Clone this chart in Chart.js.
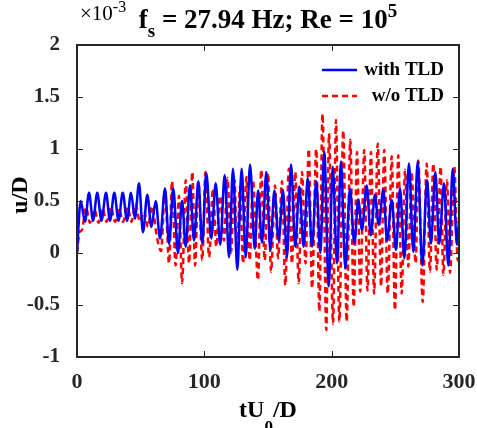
<!DOCTYPE html>
<html>
<head>
<meta charset="utf-8">
<script src="https://cdn.jsdelivr.net/npm/chart.js@4.4.1/dist/chart.umd.min.js"></script>
<style>
  html, body { margin: 0; padding: 0; background: #fff; }
  #wrap { width: 477px; height: 428px; }
</style>
</head>
<body>
<div id="wrap"><canvas id="grafico" width="477" height="428"></canvas></div>
<script>
// tempo adimensional (tU0/D) e deslocamento u/D (x 1e-3), picos e vales
const tComTLD = [0, 2.9, 6.3, 9.4, 12.6, 15.9, 19.2, 22.8, 25.9, 29.3, 32.6, 35.9, 39.3, 42.4, 45.5, 48.7,
  51.8, 55.2, 58.4, 61.8, 65.2, 69.1, 72.3, 75.6, 79.3, 82.5, 85.4, 88.7, 91.9, 95.3, 98.4,
  101.5, 105.5, 108.9, 112.5, 116.0, 119.4, 122.5, 125.9, 129.3, 132.5, 135.9, 139.6, 142.2, 145.3, 148.7,
  151.8, 155.0, 158.4, 161.8, 164.9, 168.1, 171.4, 174.6, 178.0, 181.2, 184.6, 187.9, 191.1, 194.2, 197.7,
  200.8, 204.2, 207.3, 210.7, 214.4, 217.8, 220.9, 223.8, 227.5, 230.7, 234.0, 236.9, 240.6, 243.5, 247.2,
  250.5, 253.7, 257.1, 260.7, 264.1, 267.6, 271.2, 274.9, 278.0, 281.4, 284.5, 288.2, 291.6, 295.1, 298.4, 300];
const uComTLD = [0.00, 0.50, 0.30, 0.58, 0.31, 0.58, 0.31, 0.58, 0.31, 0.58, 0.31, 0.58, 0.31, 0.58, 0.33, 0.67,
  0.20, 0.56, 0.25, 0.50, 0.14, 0.62, 0.09, 0.62, 0.00, 0.50, 0.06, 0.65, 0.12, 0.69, 0.09,
  0.77, 0.14, 0.67, 0.08, 0.75, -0.04, 0.81, -0.16, 0.81, -0.04, 0.85, 0.04, 0.60, 0.10, 0.78,
  0.03, 0.60, 0.12, 0.60, -0.04, 0.85, 0.06, 0.64, 0.06, 0.72, 0.06, 0.69, 0.00, 0.97, -0.32,
  0.83, -0.10, 0.88, -0.15, 0.62, 0.09, 0.51, 0.22, 0.65, 0.17, 0.56, 0.27, 0.61, 0.12, 0.51,
  0.03, 0.62, -0.05, 0.86, 0.01, 0.88, -0.12, 0.70, 0.09, 0.78, 0.09, 0.67, -0.12, 0.81, 0.08, 0.30];

const tSemTLD = [0, 2.0, 3.9, 7.1, 10.2, 13.7, 16.9, 20.0, 23.2, 26.7, 29.8, 33.0, 36.1, 39.7, 42.8, 45.9, 49.5,
  52.6, 55.8, 58.9, 62.8, 66.0, 69.1, 72.3, 74.6, 77.4, 80.1, 82.5, 85.4, 88.0, 90.6, 92.7, 95.3, 98.4,
  100.9, 103.7, 106.8, 109.4, 112.3, 115.4, 118.2, 120.9, 123.7, 125.7, 128.0, 130.4, 133.0, 135.6, 138.2,
  142.1, 144.7, 147.4, 150.0, 152.4, 155.5, 157.9, 161.0, 163.6, 166.3, 168.8, 171.4, 174.1, 176.7, 179.5,
  182.0, 184.6, 187.9, 190.3, 192.8, 195.8, 197.9, 201.1, 203.4, 206.0, 209.1, 211.8, 214.6, 217.3, 219.9,
  222.5, 225.6, 228.1, 230.9, 233.3, 236.2, 238.8, 241.3, 244.0, 247.2, 249.7, 252.3, 255.0, 257.6, 260.2,
  262.7, 266.0, 268.0, 271.5, 274.6, 277.2, 279.8, 282.5, 285.6, 287.7, 290.6, 293.0, 296.3, 299.0, 300];
const uSemTLD = [0.00, 0.20, 0.22, 0.44, 0.29, 0.42, 0.29, 0.43, 0.30, 0.44, 0.30, 0.43, 0.30, 0.44, 0.30, 0.47, 0.30,
  0.40, 0.25, 0.45, 0.15, 0.02, 0.60, -0.10, 0.69, -0.12, 0.55, -0.29, 0.70, -0.10, 0.78, -0.12, 0.69, -0.07,
  0.78, -0.04, 0.62, 0.06, 0.55, 0.12, 0.72, 0.00, 0.70, -0.04, 0.64, -0.10, 0.73, -0.07, 0.70,
  -0.26, 0.80, -0.07, 0.77, -0.18, 0.65, -0.05, 0.69, -0.31, 0.81, -0.10, 0.78, -0.29, 0.78, -0.10,
  1.00, -0.34, 1.00, -0.56, 1.34, -0.74, 1.15, -0.68, 1.28, -0.66, 1.18, -0.66, 1.09, -0.52, 0.97,
  -0.37, 0.99, -0.36, 0.97, -0.39, 1.05, -0.32, 0.99, -0.39, 0.93, -0.55, 0.94, -0.39, 0.80, -0.13,
  0.78, -0.10, 0.89, -0.47, 0.86, -0.18, 0.86, -0.16, 0.83, -0.21, 0.70, -0.19, 0.83, -0.07, 0.30];

const ticksX = [0, 100, 200, 300];
const ticksY = [-1, -0.5, 0, 0.5, 1, 1.5, 2];
const rotulos = ['with TLD', 'w/o TLD'];

const AZUL = '#0000ff';
const VERMELHO = '#ff0000';
const EIXO = '#262626';
const FONTE = '"Liberation Serif", "Times New Roman", serif';

// Moldura, marcas internas, titulo e legenda no estilo MATLAB
const pluginMatlab = {
  id: 'estiloMatlab',
  afterDraw: (chart) => {
    const { ctx, chartArea, scales } = chart;
    const { left, right, top, bottom } = chartArea;
    ctx.save();

    // marcas de escala para dentro
    ctx.strokeStyle = EIXO;
    ctx.lineWidth = 1;
    ctx.beginPath();
    ticksX.forEach(v => {
      const x = Math.round(scales.x.getPixelForValue(v)) + 0.5;
      ctx.moveTo(x, bottom); ctx.lineTo(x, bottom - 6);
      ctx.moveTo(x, top); ctx.lineTo(x, top + 6);
    });
    ticksY.forEach(v => {
      const y = Math.round(scales.y.getPixelForValue(v)) + 0.5;
      ctx.moveTo(left, y); ctx.lineTo(left + 6, y);
      ctx.moveTo(right, y); ctx.lineTo(right - 6, y);
    });
    ctx.stroke();

    // caixa
    ctx.lineWidth = 2;
    ctx.strokeRect(left, top, right - left, bottom - top);

    // titulo
    ctx.fillStyle = '#000';
    ctx.textBaseline = 'alphabetic';
    const partes = [
      { txt: 'f', size: 27, dy: 0 },
      { txt: 's', size: 19, dy: 9 },
      { txt: ' = 27.94 Hz; Re = 10', size: 27, dy: 0 },
      { txt: '5', size: 19, dy: -11 }
    ];
    let larg = 0;
    partes.forEach(p => { ctx.font = `bold ${p.size}px ${FONTE}`; p.w = ctx.measureText(p.txt).width; larg += p.w; });
    let xt = (left + right) / 2 - larg / 2;
    partes.forEach(p => {
      ctx.font = `bold ${p.size}px ${FONTE}`;
      ctx.fillText(p.txt, xt, 28 + p.dy);
      xt += p.w;
    });

    // multiplicador
    ctx.font = `21px ${FONTE}`;
    ctx.fillText('\u00d710', 80, 20);
    const wm = ctx.measureText('\u00d710').width;
    ctx.font = `16px ${FONTE}`;
    ctx.fillText('-3', 80 + wm, 12);

    // titulo eixo x
    ctx.font = `bold 24px ${FONTE}`;
    const a = 'tU', b = '0', c = '/D';
    const wa = ctx.measureText(a).width, wc = ctx.measureText(c).width;
    ctx.font = `bold 17px ${FONTE}`;
    const wb = ctx.measureText(b).width;
    let xx = (left + right) / 2 - (wa + wb + wc) / 2;
    ctx.font = `bold 24px ${FONTE}`;
    ctx.fillText(a, xx, 417);
    ctx.font = `bold 17px ${FONTE}`;
    ctx.fillText(b, xx + wa, 432);
    ctx.font = `bold 24px ${FONTE}`;
    ctx.fillText(c, xx + wa + wb, 417);

    // titulo eixo y
    ctx.save();
    ctx.translate(27, (top + bottom) / 2 - 6);
    ctx.rotate(-Math.PI / 2);
    ctx.textAlign = 'center';
    ctx.font = `bold 24px ${FONTE}`;
    ctx.fillText('u/D', 0, 0);
    ctx.restore();

    // legenda
    const cores = [AZUL, VERMELHO];
    const yL = [70, 96];
    ctx.font = `bold 19px ${FONTE}`;
    ctx.textAlign = 'right';
    ctx.textBaseline = 'middle';
    rotulos.forEach((r, i) => {
      ctx.strokeStyle = cores[i];
      ctx.lineWidth = 2.5;
      ctx.setLineDash(i === 1 ? [6, 4] : []);
      ctx.beginPath();
      ctx.moveTo(322, yL[i]); ctx.lineTo(357, yL[i]);
      ctx.stroke();
      ctx.fillStyle = '#000';
      ctx.fillText(r, 444, yL[i]);
    });
    ctx.restore();
  }
};

const ctx = document.getElementById('grafico').getContext('2d');
new Chart(ctx, {
  type: 'line',
  data: {
    datasets: [
      {
        label: rotulos[0],
        data: tComTLD.map((t, i) => ({ x: t, y: uComTLD[i] })),
        borderColor: AZUL,
        borderWidth: 2.5,
        pointRadius: 0,
        fill: false,
        cubicInterpolationMode: 'monotone'
      },
      {
        label: rotulos[1],
        data: tSemTLD.map((t, i) => ({ x: t, y: uSemTLD[i] })),
        borderColor: VERMELHO,
        borderWidth: 2.5,
        borderDash: [6, 4],
        pointRadius: 0,
        fill: false,
        cubicInterpolationMode: 'monotone'
      }
    ]
  },
  options: {
    responsive: false,
    animation: false,
    devicePixelRatio: 1,
    layout: { padding: { top: 45, right: 18, left: 0, bottom: 0 } },
    plugins: {
      legend: { display: false },
      tooltip: { enabled: false },
      title: { display: false }
    },
    scales: {
      x: {
        type: 'linear',
        min: 0,
        max: 300,
        afterFit: (s) => { s.height = 71; s.paddingLeft = 0; s.paddingRight = 0; },
        afterBuildTicks: (s) => { s.ticks = ticksX.map(v => ({ value: v })); },
        grid: { display: false },
        border: { display: false },
        ticks: {
          autoSkip: false,
          maxRotation: 0,
          padding: 4,
          color: EIXO,
          font: { family: FONTE, size: 22, weight: 'bold' },
          callback: (v) => String(v)
        }
      },
      y: {
        type: 'linear',
        min: -1,
        max: 2,
        afterFit: (s) => { s.width = 77; s.paddingTop = 0; s.paddingBottom = 0; },
        afterBuildTicks: (s) => { s.ticks = ticksY.map(v => ({ value: v })); },
        grid: { display: false },
        border: { display: false },
        ticks: {
          autoSkip: false,
          padding: 9,
          color: EIXO,
          font: { family: FONTE, size: 21, weight: 'bold' },
          callback: (v) => String(v)
        }
      }
    }
  },
  plugins: [pluginMatlab]
});
</script>
</body>
</html>
